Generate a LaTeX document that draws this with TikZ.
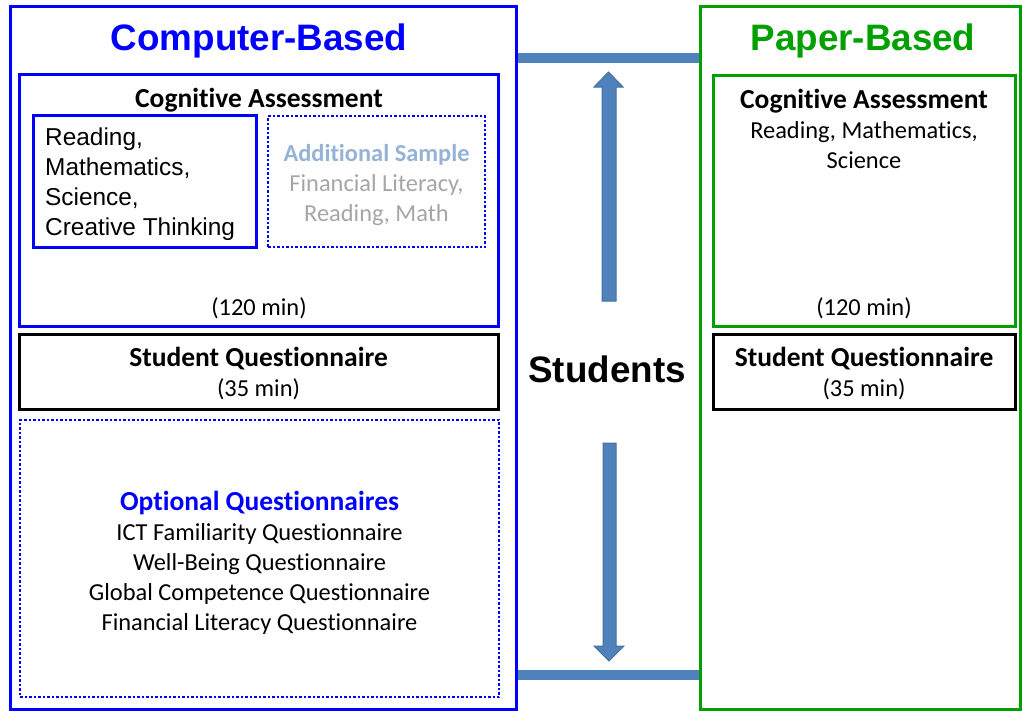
\documentclass[tikz,border=0pt]{standalone}
\usepackage{fontspec}
\setmainfont{Carlito}[Ligatures=NoCommon]
\newfontfamily\arialfont{Liberation Sans}
\usepackage{tikz}
\usetikzlibrary{shadows}

\definecolor{cbblue}{HTML}{0000FF}
\definecolor{pbgreen}{HTML}{00A000}
\definecolor{barblue}{HTML}{4F81BD}
\definecolor{baredge}{HTML}{41719C}
\definecolor{addblue}{HTML}{95B3D7}
\definecolor{addgray}{HTML}{A6A6A6}

\newcommand{\headfont}{\fontsize{27.5}{31}\selectfont\bfseries}

\begin{document}
\begin{tikzpicture}[x=1pt,y=-1pt,
  box/.style={draw, fill=white, line width=3pt, inner sep=0pt,
    drop shadow={shadow xshift=2pt,shadow yshift=-2pt,opacity=0.25}},
  dotbox/.style={draw=cbblue, fill=white, line width=2.5pt, inner sep=0pt,
    dash pattern=on 2.5pt off 2pt},
  txt/.style={font=\fontsize{24.4}{30}\selectfont, align=center, inner sep=0pt},
  bigtitle/.style={font=\arialfont\bfseries\fontsize{36.8}{40}\selectfont, inner sep=0pt},
  bar/.style={draw=barblue, line width=10pt},
  blockarrow/.style={fill=barblue, draw=baredge, line width=1pt}]
\useasboundingbox (0,0) rectangle (1022,710);

% the two sides
\node[box, draw=cbblue, minimum width=506pt, minimum height=703pt] (cb) at (263,357.5) {};
\node[box, draw=pbgreen, minimum width=320pt, minimum height=703pt] (pb) at (860,357.5) {};

\node[bigtitle, text=cbblue] (cbtitle) at (259,41) {Computer-Based};
\node[bigtitle, text=pbgreen] (pbtitle) at (863,41) {Paper-Based};

% computer-based
\node[box, draw=cbblue, minimum width=479pt, minimum height=252pt] (cbcog) at (258.5,200) {};
\node[txt, font=\headfont] (cbcogtitle) at (259,100) {Cognitive Assessment};
\node[box, draw=cbblue, minimum width=223pt, minimum height=132pt] (cbmain) at (144.5,181) {};
\node[txt, font=\arialfont\fontsize{24.4}{30}\selectfont, align=left, anchor=west] (cbmaintext) at (45,184.5)
  {Reading,\\Mathematics,\\Science,\\Creative Thinking};
\node[dotbox, minimum width=217pt, minimum height=131pt] (cbadd) at (376.5,181.5) {};
\node[txt, text=addgray] (cbaddtext) at (376.5,185)
  {\textcolor{addblue}{\bfseries Additional Sample}\\Financial Literacy,\\Reading, Math};
\node[txt] (cbcogtime) at (259,308.5) {(120 min)};

\node[box, draw=black, minimum width=479pt, minimum height=75pt] (cbsq) at (258.5,371.5) {};
\node[txt] (cbsqtext) at (258.5,374) {{\headfont Student Questionnaire}\\(35 min)};

\node[dotbox, minimum width=479pt, minimum height=277pt] (cbopt) at (259.5,558.5) {};
\node[txt] (cbopttext) at (259.5,563)
  {\textcolor{cbblue}{\headfont Optional Questionnaires}\\ICT Familiarity Questionnaire\\
   Well-Being Questionnaire\\Global Competence Questionnaire\\Financial Literacy Questionnaire};

% paper-based
\node[box, draw=pbgreen, minimum width=302pt, minimum height=251pt] (pbcog) at (864,200.5) {};
\node[txt, anchor=north] (pbcogtext) at (864,89)
  {{\headfont Cognitive Assessment}\\Reading, Mathematics,\\Science};
\node[txt] (pbcogtime) at (864,308.5) {(120 min)};

\node[box, draw=black, minimum width=302pt, minimum height=75pt] (pbsq) at (864,371.5) {};
\node[txt] (pbsqtext) at (864,374) {{\headfont Student Questionnaire}\\(35 min)};

% students in the middle
\coordinate (topbar) at (0,58);
\coordinate (botbar) at (0,675);
\draw[bar] (cb.east |- topbar) -- (pb.west |- topbar);
\draw[bar] (cb.east |- botbar) -- (pb.west |- botbar);

\node[bigtitle] (students) at (607,369) {Students};

\draw[blockarrow] (602,301) -- (602,87) -- (594,87) -- (608.5,72) -- (623,87) -- (616,87) -- (616,301) -- cycle;
\draw[blockarrow] (603,443) -- (603,646) -- (594,646) -- (609,661) -- (624,646) -- (616,646) -- (616,443) -- cycle;
\end{tikzpicture}
\end{document}
